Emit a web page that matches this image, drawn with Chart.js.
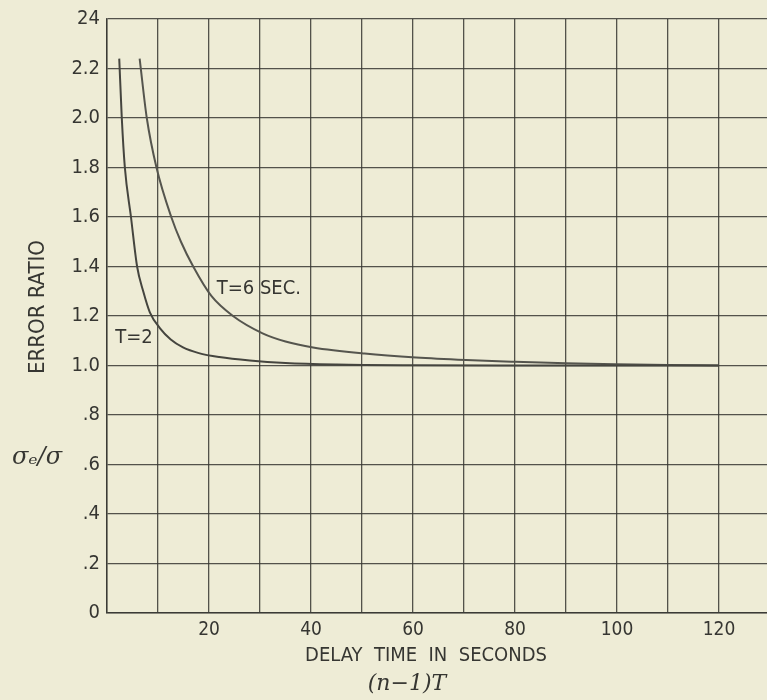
<!DOCTYPE html>
<html>
<head>
<meta charset="utf-8">
<script src="https://cdn.jsdelivr.net/npm/chart.js@4.4.0/dist/chart.umd.min.js"></script>
<style>
  html, body { margin: 0; padding: 0; background: #eeecd6; }
  #wrap { width: 767px; height: 700px; }
</style>
</head>
<body>
<div id="wrap"><canvas id="errChart" width="767" height="700"></canvas></div>
<script>
// delay time (s) and error ratio
const t2Delay = [2.4, 2.9, 3.5, 4.7, 5.9, 7.1, 8.4, 10.4, 12.5, 14.9, 18, 22, 28, 35, 45, 60, 80, 100, 120];
const t2Ratio = [2.24, 2.0, 1.8, 1.6, 1.4, 1.3, 1.215, 1.15, 1.105, 1.073, 1.05, 1.034, 1.02, 1.01, 1.004, 1.001, 1.0, 1.0, 1.0];
const t6Delay = [6.4, 7.8, 9.7, 12.6, 14.5, 16.9, 20.5, 24.7, 30.5, 35, 40.4, 50.5, 60.6, 70.4, 80, 90, 100, 110, 120];
const t6Ratio = [2.24, 2.0, 1.8, 1.6, 1.5, 1.4, 1.28, 1.2, 1.13, 1.097, 1.073, 1.048, 1.032, 1.022, 1.015, 1.009, 1.005, 1.002, 1.0];

const xTickLabels = ['', '', '20', '', '40', '', '60', '', '80', '', '100', '', '120'];
const yTickLabels = ['0', '.2', '.4', '.6', '.8', '1.0', '1.2', '1.4', '1.6', '1.8', '2.0', '2.2', '24'];
const curveNames = ['T=2', 'T=6 SEC.'];

const ink = '#363632';
const gridInk = 'rgba(55,55,50,0.85)';
const letterFont = '"DejaVu Sans Condensed", "DejaVu Sans", sans-serif';

function toPoints(xs, ys) {
  return xs.map((x, i) => ({ x: x, y: ys[i] }));
}

const paper = {
  id: 'paper',
  beforeDraw(chart) {
    const ctx = chart.ctx;
    ctx.save();
    ctx.fillStyle = '#eeecd6';
    ctx.fillRect(0, 0, chart.width, chart.height);
    ctx.restore();
  },
  afterDraw(chart) {
    const ctx = chart.ctx;
    const xs = chart.scales.x, ys = chart.scales.y;
    ctx.save();
    ctx.fillStyle = ink;
    ctx.textBaseline = 'middle';

    // y title
    ctx.save();
    ctx.translate(38, 307);
    ctx.rotate(-Math.PI / 2);
    ctx.textAlign = 'center';
    ctx.font = '22px ' + letterFont;
    ctx.fillText('ERROR RATIO', 0, 0);
    ctx.restore();

    ctx.textAlign = 'center';
    ctx.font = 'italic 24px "DejaVu Serif", serif';
    ctx.fillText('σₑ/σ', 37, 458);

    // x title
    ctx.font = '20px ' + letterFont;
    ctx.fillText('DELAY  TIME  IN  SECONDS', 426, 656);
    ctx.font = 'italic 22px "DejaVu Serif", serif';
    ctx.fillText('(n−1)T', 407, 684);

    // curve labels
    ctx.textAlign = 'left';
    ctx.font = '20px ' + letterFont;
    ctx.fillText(curveNames[0], xs.getPixelForValue(1.6), ys.getPixelForValue(1.11));
    ctx.fillText(curveNames[1], xs.getPixelForValue(21.5), ys.getPixelForValue(1.31));
    ctx.restore();
  }
};

const ctx = document.getElementById('errChart').getContext('2d');
const errChart = new Chart(ctx, {
  type: 'line',
  data: {
    datasets: [
      {
        label: curveNames[0],
        data: toPoints(t2Delay, t2Ratio),
        borderColor: '#45453f',
        borderWidth: 2,
        pointRadius: 0,
        fill: false,
        cubicInterpolationMode: 'monotone'
      },
      {
        label: curveNames[1],
        data: toPoints(t6Delay, t6Ratio),
        borderColor: '#55554e',
        borderWidth: 2,
        pointRadius: 0,
        fill: false,
        cubicInterpolationMode: 'monotone'
      }
    ]
  },
  options: {
    responsive: false,
    animation: false,
    layout: { padding: { top: 16, right: 0, bottom: 0, left: 0 } },
    plugins: {
      legend: { display: false },
      tooltip: { enabled: false }
    },
    scales: {
      x: {
        type: 'linear',
        min: 0,
        max: 129.4,
        afterFit: s => { s.height = 87; },
        grid: { color: gridInk, lineWidth: 1.3, drawTicks: false },
        border: { display: true, color: gridInk, width: 1.5 },
        ticks: {
          stepSize: 10,
          includeBounds: false,
          padding: 6,
          maxRotation: 0,
          autoSkip: false,
          color: ink,
          font: { family: letterFont, size: 19 },
          callback: (v, i) => xTickLabels[i] || ''
        }
      },
      y: {
        min: 0,
        max: 2.4,
        afterBuildTicks: s => { s.ticks = yTickLabels.map((_, i) => ({ value: i * 0.2 })); },
        afterFit: s => { s.width = 107; },
        grid: { color: gridInk, lineWidth: 1.3, drawTicks: false },
        border: { display: true, color: gridInk, width: 1.5 },
        ticks: {
          padding: 7,
          autoSkip: false,
          color: ink,
          font: { family: letterFont, size: 20 },
          callback: (v, i) => yTickLabels[i]
        }
      }
    }
  },
  plugins: [paper]
});
</script>
</body>
</html>
